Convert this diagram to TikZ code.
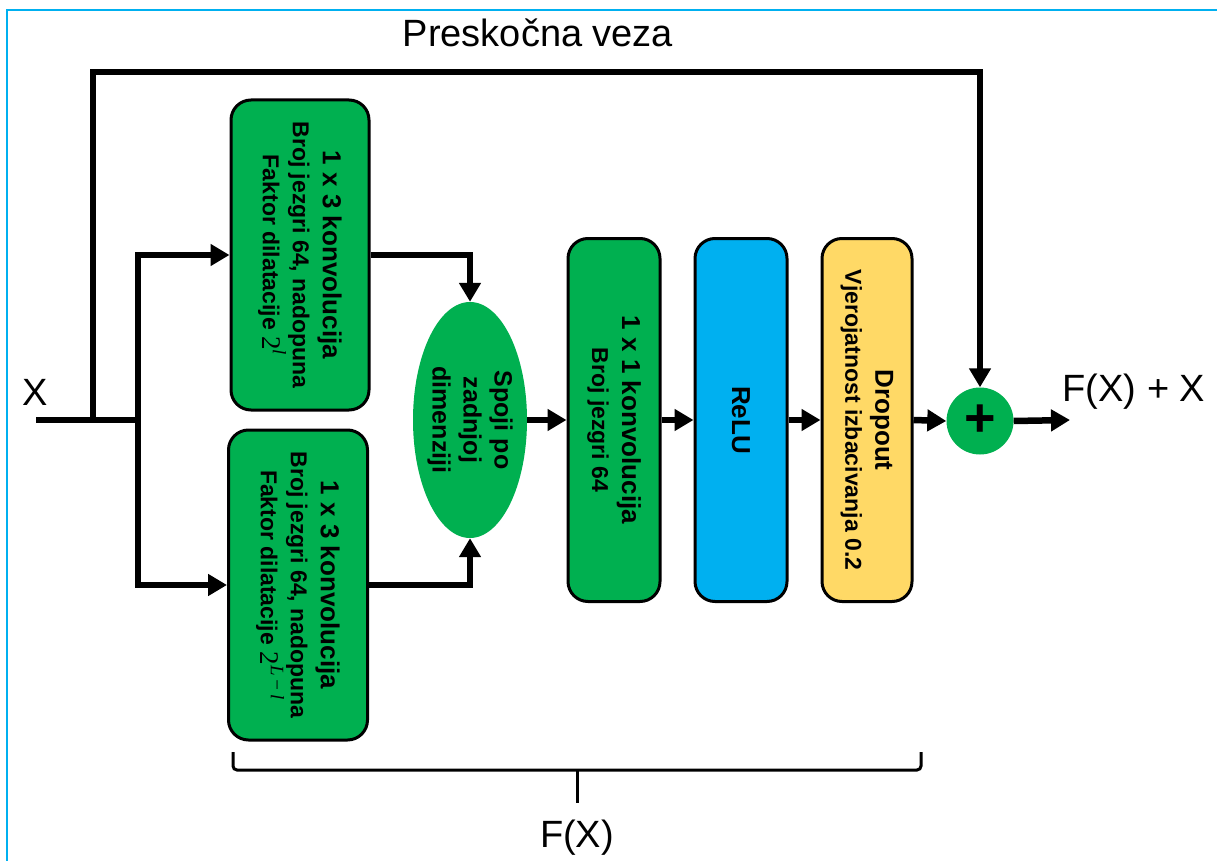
\documentclass[tikz,border=0pt]{standalone}
\usepackage{fontspec}
\setmainfont{Liberation Sans}
\newfontfamily\mserif{Liberation Serif}
\usetikzlibrary{arrows.meta,shapes.geometric}
\definecolor{gr}{HTML}{00B050}
\definecolor{bl}{HTML}{00B0F0}
\definecolor{yl}{HTML}{FFD966}
\newcommand{\pw}[1]{{\mserif\mdseries\fontsize{27}{30}\selectfont 2\raisebox{10pt}{\fontsize{19}{19}\selectfont\itshape #1}}}
\begin{document}
\begin{tikzpicture}[x=1pt,y=-1pt,
  ln/.style={line width=6.5pt},
  arr/.style={line width=6.5pt,-{Triangle[length=19pt,width=21pt]}},
  box/.style={draw=black,line width=3pt,rounded corners=20pt,inner sep=0pt},
  txt/.style={rotate=-90,align=center,font=\bfseries\fontsize{23}{30}\selectfont,inner sep=0pt},
  big/.style={font=\fontsize{38}{40}\selectfont,inner sep=0pt}]
\useasboundingbox (0,0) rectangle (1217,861);
\fill[white] (0,0) rectangle (1217,861);
% frame
\draw[bl,line width=2.5pt] (1217,10) -- (7,10) -- (7,861);

% texts
\node[big] (title) at (538,33) {Preskočna veza};
\node[big] (xlab) at (35,392) {X};
\node[big] (outlab) at (1134,392) {F(X) + X};
\node[big] (fx) at (577,838) {F(X)};

% boxes
\node[box,fill=gr,minimum width=138pt,minimum height=310pt] (c1) at (300,255) {};
\node[txt] (c1t) at (c1.center) {{\fontsize{26}{30}\selectfont 1 x 3 konvolucija}\\Broj jezgri 64, nadopuna\\Faktor dilatacije \pw{l}};
\node[box,fill=gr,minimum width=139pt,minimum height=310pt] (c2) at (298,585) {};
\node[txt] (c2t) at (c2.center) {{\fontsize{26}{30}\selectfont 1 x 3 konvolucija}\\Broj jezgri 64, nadopuna\\Faktor dilatacije \pw{L\,−\,l}};

\node[ellipse,fill=gr,minimum width=114pt,minimum height=236pt,inner sep=0pt] (sp) at (470,420) {};
\node[txt,font=\bfseries\fontsize{25}{31}\selectfont] (spt) at (sp.center) {Spoji po\\zadnjoj\\dimenziji};

\node[box,fill=gr,minimum width=92pt,minimum height=363pt] (c3) at (614,420) {};
\node[txt] (c3t) at (c3.center) {{\fontsize{26}{30}\selectfont 1 x 1 konvolucija}\\Broj jezgri 64};

\node[box,fill=bl,minimum width=92pt,minimum height=363pt] (relu) at (741,420) {};
\node[txt,font=\bfseries\fontsize{26}{30}\selectfont] (relut) at (relu.center) {ReLU};

\node[box,fill=yl,minimum width=90pt,minimum height=363pt] (drop) at (867,420) {};
\node[txt] (dropt) at (drop.center) {{\fontsize{26}{30}\selectfont Dropout}\\Vjerojatnost izbacivanja 0.2};

\node[circle,fill=gr,minimum size=67pt,inner sep=0pt] (plus) at (980,421) {};
\node[inner sep=0pt,font=\bfseries\fontsize{54}{54}\selectfont] (plust) at (plus.center) {+};

% coordinates
\coordinate (xin) at (36,420);
\coordinate (br) at (138,420);
\coordinate (sk) at (93,420);
\coordinate (tl) at (93,72);
\coordinate (tr) at (980,72);
\coordinate (out) at (1070,420);

% connectors
\draw[ln] (xin) -- (br);
\draw[arr] (sk) -- (tl) -- (tr) -- (plus.north);
\draw[arr] (br) |- (c1.west);
\draw[arr] (br) |- (c2.west);
\draw[arr] (c1.east) -| (sp.north);
\draw[arr] (c2.east) -| (sp.south);
\draw[arr] (sp.east) -- (c3.west);
\draw[arr] (c3.east) -- (relu.west);
\draw[arr] (relu.east) -- (drop.west);
\draw[arr] (drop.east) -- (plus.west);
\draw[arr] (plus.east) -- (out);

% brace
\draw[line width=3pt,rounded corners=4pt] (233,752) -- (233,770) -- (921,770) -- (921,752);
\draw[line width=3pt] (577,770) -- (577,803);
\end{tikzpicture}
\end{document}
